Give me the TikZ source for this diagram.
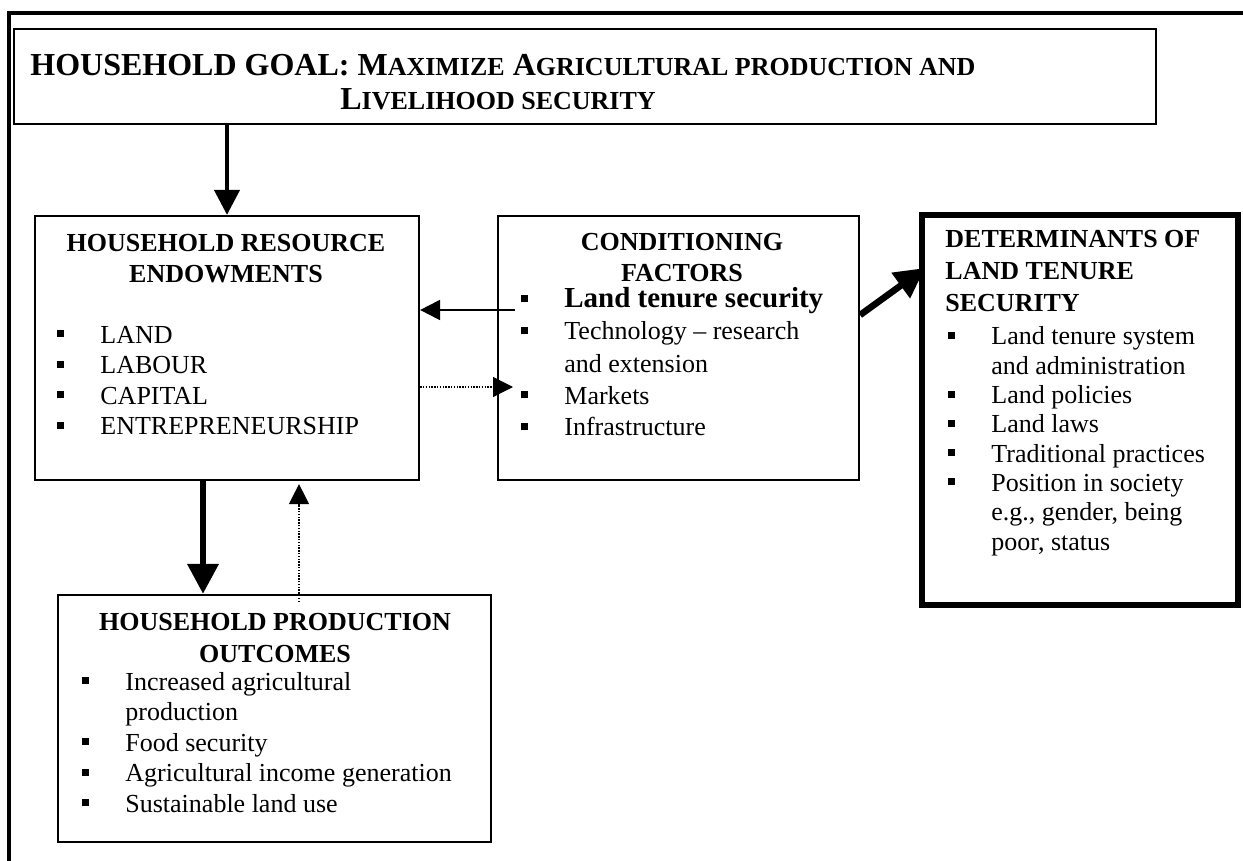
\documentclass[tikz,border=0pt]{standalone}
\usepackage{fontspec}
\setmainfont{Liberation Serif}
\usetikzlibrary{arrows.meta,positioning}

\newcommand{\marca}{\makebox[21.5pt][l]{\rule[3pt]{3.5pt}{3.5pt}}}
\newcommand{\recuo}{\hspace*{21.5pt}}
\newcommand{\versalete}[2]{#1{\fontsize{13}{15}\selectfont #2}}

\begin{document}
\begin{tikzpicture}[x=0.5pt,y=-0.5pt,
  caixa/.style={draw,line width=1.1pt,inner sep=0pt},
  caixagrossa/.style={draw,line width=3pt,inner sep=0pt},
  titulo/.style={align=center,anchor=base,inner sep=0pt,font=\fontsize{13}{15.8}\selectfont\bfseries},
  lista/.style={align=left,anchor=base west,inner sep=0pt,font=\fontsize{13}{15.3}\selectfont},
  meta/.style={anchor=base west,inner sep=0pt,font=\fontsize{16}{19}\selectfont\bfseries},
  seta/.style={-{Triangle[length=10pt,width=10pt]},line width=1pt},
  setapontos/.style={-{Triangle[length=10pt,width=10pt]},line width=0.6pt,dash pattern=on 0.7pt off 0.7pt},
  setagrossa/.style={-{Triangle[length=12.5pt,width=12.5pt]},line width=2.1pt},
  setamaior/.style={-{Triangle[length=15pt,width=15pt]},line width=3.3pt}
]
\useasboundingbox (0,0) rectangle (1243,861);
\draw[line width=1.6pt] (1243,13) -| (9,861);

\node[caixa,minimum width=571pt,minimum height=47.5pt] (objetivo) at (585,76.5) {};
\node[meta] (titulo1) at (30,76)
  {HOUSEHOLD GOAL: \versalete{M}{AXIMIZE} \versalete{A}{GRICULTURAL PRODUCTION AND}};
\node[meta] (titulo2) at (340,110) {\versalete{L}{IVELIHOOD SECURITY}};

\node[caixa,minimum width=192pt,minimum height=132pt] (recursos) at (227,348) {};
\node[titulo] (trecursos) at (226,283) {HOUSEHOLD RESOURCE\\ENDOWMENTS};
\node[lista] (lrecursos) at (57,435)
  {\marca LAND\\\marca LABOUR\\\marca CAPITAL\\\marca ENTREPRENEURSHIP};

\node[caixa,minimum width=180.5pt,minimum height=132pt] (condic) at (678.5,348) {};
\node[titulo] (tcondic) at (682,282) {CONDITIONING\\FACTORS};
\node[lista,font=\fontsize{14.5}{17}\selectfont\bfseries] (posse) at (521,308)
  {\marca Land tenure security};
\node[lista,font=\fontsize{13}{16}\selectfont] (lcondic) at (521,436)
  {\marca Technology -- research\\\recuo and extension\\\marca Markets\\\marca Infrastructure};
\coordinate (mercado) at (513,387);

\node[caixagrossa,minimum width=158pt,minimum height=195pt] (determ) at (1080,410) {};
\node[titulo,align=left,anchor=base west,font=\fontsize{13}{16.2}\selectfont\bfseries] (tdeterm) at (945,312)
  {DETERMINANTS OF\\LAND TENURE\\SECURITY};
\node[lista,font=\fontsize{13}{14.65}\selectfont] (ldeterm) at (948,550)
  {\marca Land tenure system\\\recuo and administration\\\marca Land policies\\\marca Land laws\\
   \marca Traditional practices\\\marca Position in society\\\recuo e.g., gender, being\\\recuo poor, status};

\node[caixa,minimum width=216.5pt,minimum height=123.5pt] (produc) at (274.5,718.5) {};
\node[titulo] (tproduc) at (275,662) {HOUSEHOLD PRODUCTION\\OUTCOMES};
\node[lista,font=\fontsize{13}{15.25}\selectfont] (lproduc) at (82,812)
  {\marca Increased agricultural\\\recuo production\\\marca Food security\\
   \marca Agricultural income generation\\\marca Sustainable land use};

\coordinate (saida) at ([xshift=-3pt,yshift=-1pt]posse.base west);
\coordinate (descida) at ([xshift=-12pt]recursos.south);
\coordinate (retorno) at ([xshift=36pt]recursos.south);

\draw[setagrossa] (objetivo.south -| recursos.north) -- (recursos.north);
\draw[seta] (saida) -- (saida -| recursos.east);
\draw[setapontos] (recursos.east |- mercado) -- (mercado);
\draw[setamaior] ([yshift=16.5pt]condic.east) -- ([xshift=3pt,yshift=71pt]determ.west);
\draw[setamaior] (descida) -- (descida |- produc.north);
\draw[setapontos,shorten <=-4pt,shorten >=1.5pt] (retorno |- produc.north) -- (retorno);
\end{tikzpicture}
\end{document}
